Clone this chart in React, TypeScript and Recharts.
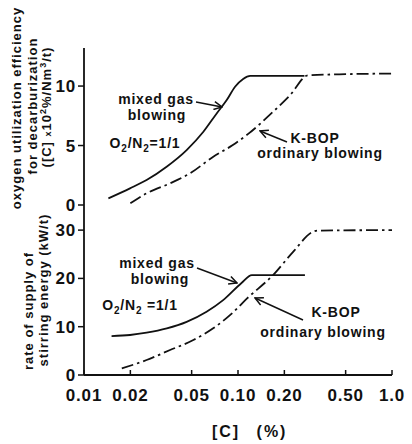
import React from "react";
import { LineChart, Line, XAxis, YAxis } from "recharts";

// ---- data ----
const cTicks = [0.01, 0.02, 0.05, 0.1, 0.2, 0.5, 1];
const cTickLabels = ["0.01", "0.02", "0.05", "0.10", "0.20", "0.50", "1.0"];
const effTicks = [0, 5, 10];
const energyTicks = [0, 10, 20, 30];

// oxygen utilization efficiency, mixed gas blowing (O2/N2 = 1/1)
const effMixedC = [0.0144, 0.0199, 0.0255, 0.0344, 0.0464, 0.0596, 0.0727, 0.0845, 0.0957, 0.108, 0.12, 0.15, 0.27];
const effMixedV = [0.56, 1.4, 2.1, 3.22, 4.62, 6.16, 7.7, 8.82, 9.94, 10.6, 10.85, 10.85, 10.85];
// oxygen utilization efficiency, K-BOP ordinary blowing
const effKbopC = [0.02, 0.0255, 0.0362, 0.0488, 0.0691, 0.092, 0.117, 0.169, 0.218, 0.285, 0.5, 1.0];
const effKbopV = [0.15, 0.98, 1.82, 2.66, 4.06, 5.02, 6.0, 7.84, 9.24, 10.9, 11.0, 11.05];
// stirring energy, mixed gas blowing
const engMixedC = [0.0151, 0.0199, 0.0255, 0.0345, 0.0464, 0.0625, 0.0801, 0.105, 0.123, 0.272];
const engMixedV = [8.07, 8.28, 8.76, 9.65, 11.0, 13.1, 15.5, 19.0, 20.7, 20.7];
// stirring energy, K-BOP ordinary blowing
const engKbopC = [0.0176, 0.0255, 0.0362, 0.0513, 0.069, 0.091, 0.115, 0.169, 0.228, 0.307, 0.33, 1.0];
const engKbopV = [1.38, 3.1, 5.17, 7.24, 9.66, 12.7, 15.9, 20.7, 25.5, 29.65, 29.9, 30.0];

const rows = (c: number[], v: number[]) => c.map((x, i) => ({ c: x, v: v[i] }));

const FONT = "'Liberation Sans', Arial, Helvetica, sans-serif";
const INK = "#111";
const DASHDOT = "12 4 2.5 4";

function makeXTick(showLabel: boolean) {
  return (props: any) => {
    const { x, y, payload } = props;
    const i = cTicks.indexOf(payload.value);
    return (
      <g>
        <line x1={x} y1={y} x2={x} y2={y - 5} stroke={INK} strokeWidth={1.5} />
        {showLabel && (
          <text x={x} y={y + 26} textAnchor="middle" fontFamily={FONT} fontSize={17} fontWeight="bold" letterSpacing={0.8} fill={INK}>
            {cTickLabels[i]}
          </text>
        )}
      </g>
    );
  };
}

const yTickStyle = { fontFamily: FONT, fontSize: 17, fontWeight: "bold", fill: INK, letterSpacing: 0.8 } as any;
const axisLine = { stroke: INK, strokeWidth: 1.8 };

function Panel(props: {
  top: number;
  height: number;
  margin: any;
  xHeight: number;
  showLabels: boolean;
  yDomain: number[];
  yTicks: number[];
  mixed: any[];
  kbop: any[];
}) {
  const { top, height, margin, xHeight, showLabels, yDomain, yTicks, mixed, kbop } = props;
  return (
    <div style={{ position: "absolute", left: 0, top }}>
      <LineChart width={412} height={height} margin={margin}>
        <XAxis
          dataKey="c"
          type="number"
          scale="log"
          domain={[0.01, 1]}
          allowDataOverflow
          ticks={cTicks}
          interval={0}
          height={xHeight}
          tickSize={0}
          tickMargin={0}
          tickLine={false}
          tick={makeXTick(showLabels)}
          axisLine={axisLine}
        />
        <XAxis
          xAxisId="t"
          orientation="top"
          type="number"
          scale="log"
          domain={[0.01, 1]}
          allowDataOverflow
          height={0}
          tick={false}
          tickLine={false}
          axisLine={showLabels ? false : axisLine}
        />
        <YAxis
          type="number"
          domain={yDomain}
          allowDataOverflow
          ticks={yTicks}
          interval={0}
          width={84}
          tickSize={6}
          tickMargin={2}
          tick={yTickStyle}
          tickLine={{ stroke: INK, strokeWidth: 1.5 }}
          axisLine={axisLine}
        />
        <YAxis
          yAxisId="r"
          orientation="right"
          type="number"
          domain={yDomain}
          width={0}
          tick={false}
          tickLine={false}
          axisLine={axisLine}
        />
        <Line data={mixed} dataKey="v" type="monotone" stroke={INK} strokeWidth={1.8} dot={false} isAnimationActive={false} />
        <Line data={kbop} dataKey="v" type="monotone" stroke={INK} strokeWidth={1.8} strokeDasharray={DASHDOT} dot={false} isAnimationActive={false} />
      </LineChart>
    </div>
  );
}

const annStyle = { fontFamily: FONT, fontSize: 14, fontWeight: "bold", fill: INK, letterSpacing: 0.8 } as any;
const titleStyle = { fontFamily: FONT, fontSize: 13, fontWeight: "bold", fill: INK, letterSpacing: 1 } as any;

function O2N2(props: { x: number; y: number; eq: string }) {
  const { x, y, eq } = props;
  return (
    <text x={x} y={y} textAnchor="middle" style={annStyle}>
      O<tspan fontSize={10} dy={4}>2</tspan>
      <tspan dy={-4}>/N</tspan>
      <tspan fontSize={10} dy={4}>2</tspan>
      <tspan dy={-4}>{eq}</tspan>
    </text>
  );
}

function VText(props: { x: number; y: number; children: any }) {
  return (
    <text x={props.x} y={props.y} dy="0.35em" textAnchor="middle" transform={`rotate(-90 ${props.x} ${props.y})`} style={titleStyle}>
      {props.children}
    </text>
  );
}

function Overlay() {
  return (
    <svg width={412} height={444} style={{ position: "absolute", left: 0, top: 0, pointerEvents: "none" }}>
      <defs>
        <marker id="ah" markerWidth={10} markerHeight={10} refX={9} refY={5} orient="auto" markerUnits="userSpaceOnUse">
          <path d="M1,1 L9,5 L1,9" fill="none" stroke={INK} strokeWidth={1.5} />
        </marker>
      </defs>
      {/* y titles */}
      <VText x={16} y={108}>oxygen utilization efficiency</VText>
      <VText x={32} y={106}>for decarburization</VText>
      <VText x={46} y={107}>
        ([C] <tspan fontSize={9}>x</tspan>10<tspan fontSize={9} dy={-5}>2</tspan>
        <tspan dy={5}>%/Nm</tspan>
        <tspan fontSize={9} dy={-5}>3</tspan>
        <tspan dy={5}>/t)</tspan>
      </VText>
      <VText x={28} y={311}>rate of supply of</VText>
      <VText x={43} y={290}>stirring energy (kW/t)</VText>

      {/* top panel annotations */}
      <text x={156} y={104} textAnchor="middle" style={annStyle}>mixed gas</text>
      <text x={157} y={120} textAnchor="middle" style={annStyle}>blowing</text>
      <O2N2 x={145} y={148} eq="=1/1" />
      <line x1={196} y1={102} x2={222} y2={107} stroke={INK} strokeWidth={1.4} markerEnd="url(#ah)" />
      <text x={315} y={143} textAnchor="middle" style={annStyle}>K-BOP</text>
      <text x={320} y={158} textAnchor="middle" style={annStyle}>ordinary blowing</text>
      <line x1={287} y1={142} x2={260} y2={131} stroke={INK} strokeWidth={1.4} markerEnd="url(#ah)" />

      {/* bottom panel annotations */}
      <text x={157} y={268} textAnchor="middle" style={annStyle}>mixed gas</text>
      <text x={160} y={284} textAnchor="middle" style={annStyle}>blowing</text>
      <O2N2 x={140} y={310} eq=" =1/1" />
      <line x1={197} y1={268} x2={237} y2={283} stroke={INK} strokeWidth={1.4} markerEnd="url(#ah)" />
      <text x={336} y={317} textAnchor="middle" style={annStyle}>K-BOP</text>
      <text x={323} y={337} textAnchor="middle" style={annStyle}>ordinary blowing</text>
      <line x1={303} y1={320} x2={255} y2={298} stroke={INK} strokeWidth={1.4} markerEnd="url(#ah)" />

      {/* x title */}
      <text x={226} y={437} textAnchor="middle" fontFamily={FONT} fontSize={16} fontWeight="bold" letterSpacing={2} fill={INK}>[C]</text>
      <text x={272} y={437} textAnchor="middle" fontFamily={FONT} fontSize={16} fontWeight="bold" letterSpacing={2} fill={INK}>(%)</text>
    </svg>
  );
}

export default function App() {
  return (
    <div style={{ position: "absolute", left: 0, top: 0, width: 412, height: 444, background: "#fff", overflow: "hidden" }}>
      <Panel
        top={0}
        height={215}
        margin={{ top: 48, right: 20, bottom: 10, left: 0 }}
        xHeight={0}
        showLabels={false}
        yDomain={[0, 13.2]}
        yTicks={effTicks}
        mixed={rows(effMixedC, effMixedV)}
        kbop={rows(effKbopC, effKbopV)}
      />
      <Panel
        top={195}
        height={249}
        margin={{ top: 10, right: 20, bottom: 39, left: 0 }}
        xHeight={30}
        showLabels={true}
        yDomain={[0, 35.2]}
        yTicks={energyTicks}
        mixed={rows(engMixedC, engMixedV)}
        kbop={rows(engKbopC, engKbopV)}
      />
      <Overlay />
    </div>
  );
}
